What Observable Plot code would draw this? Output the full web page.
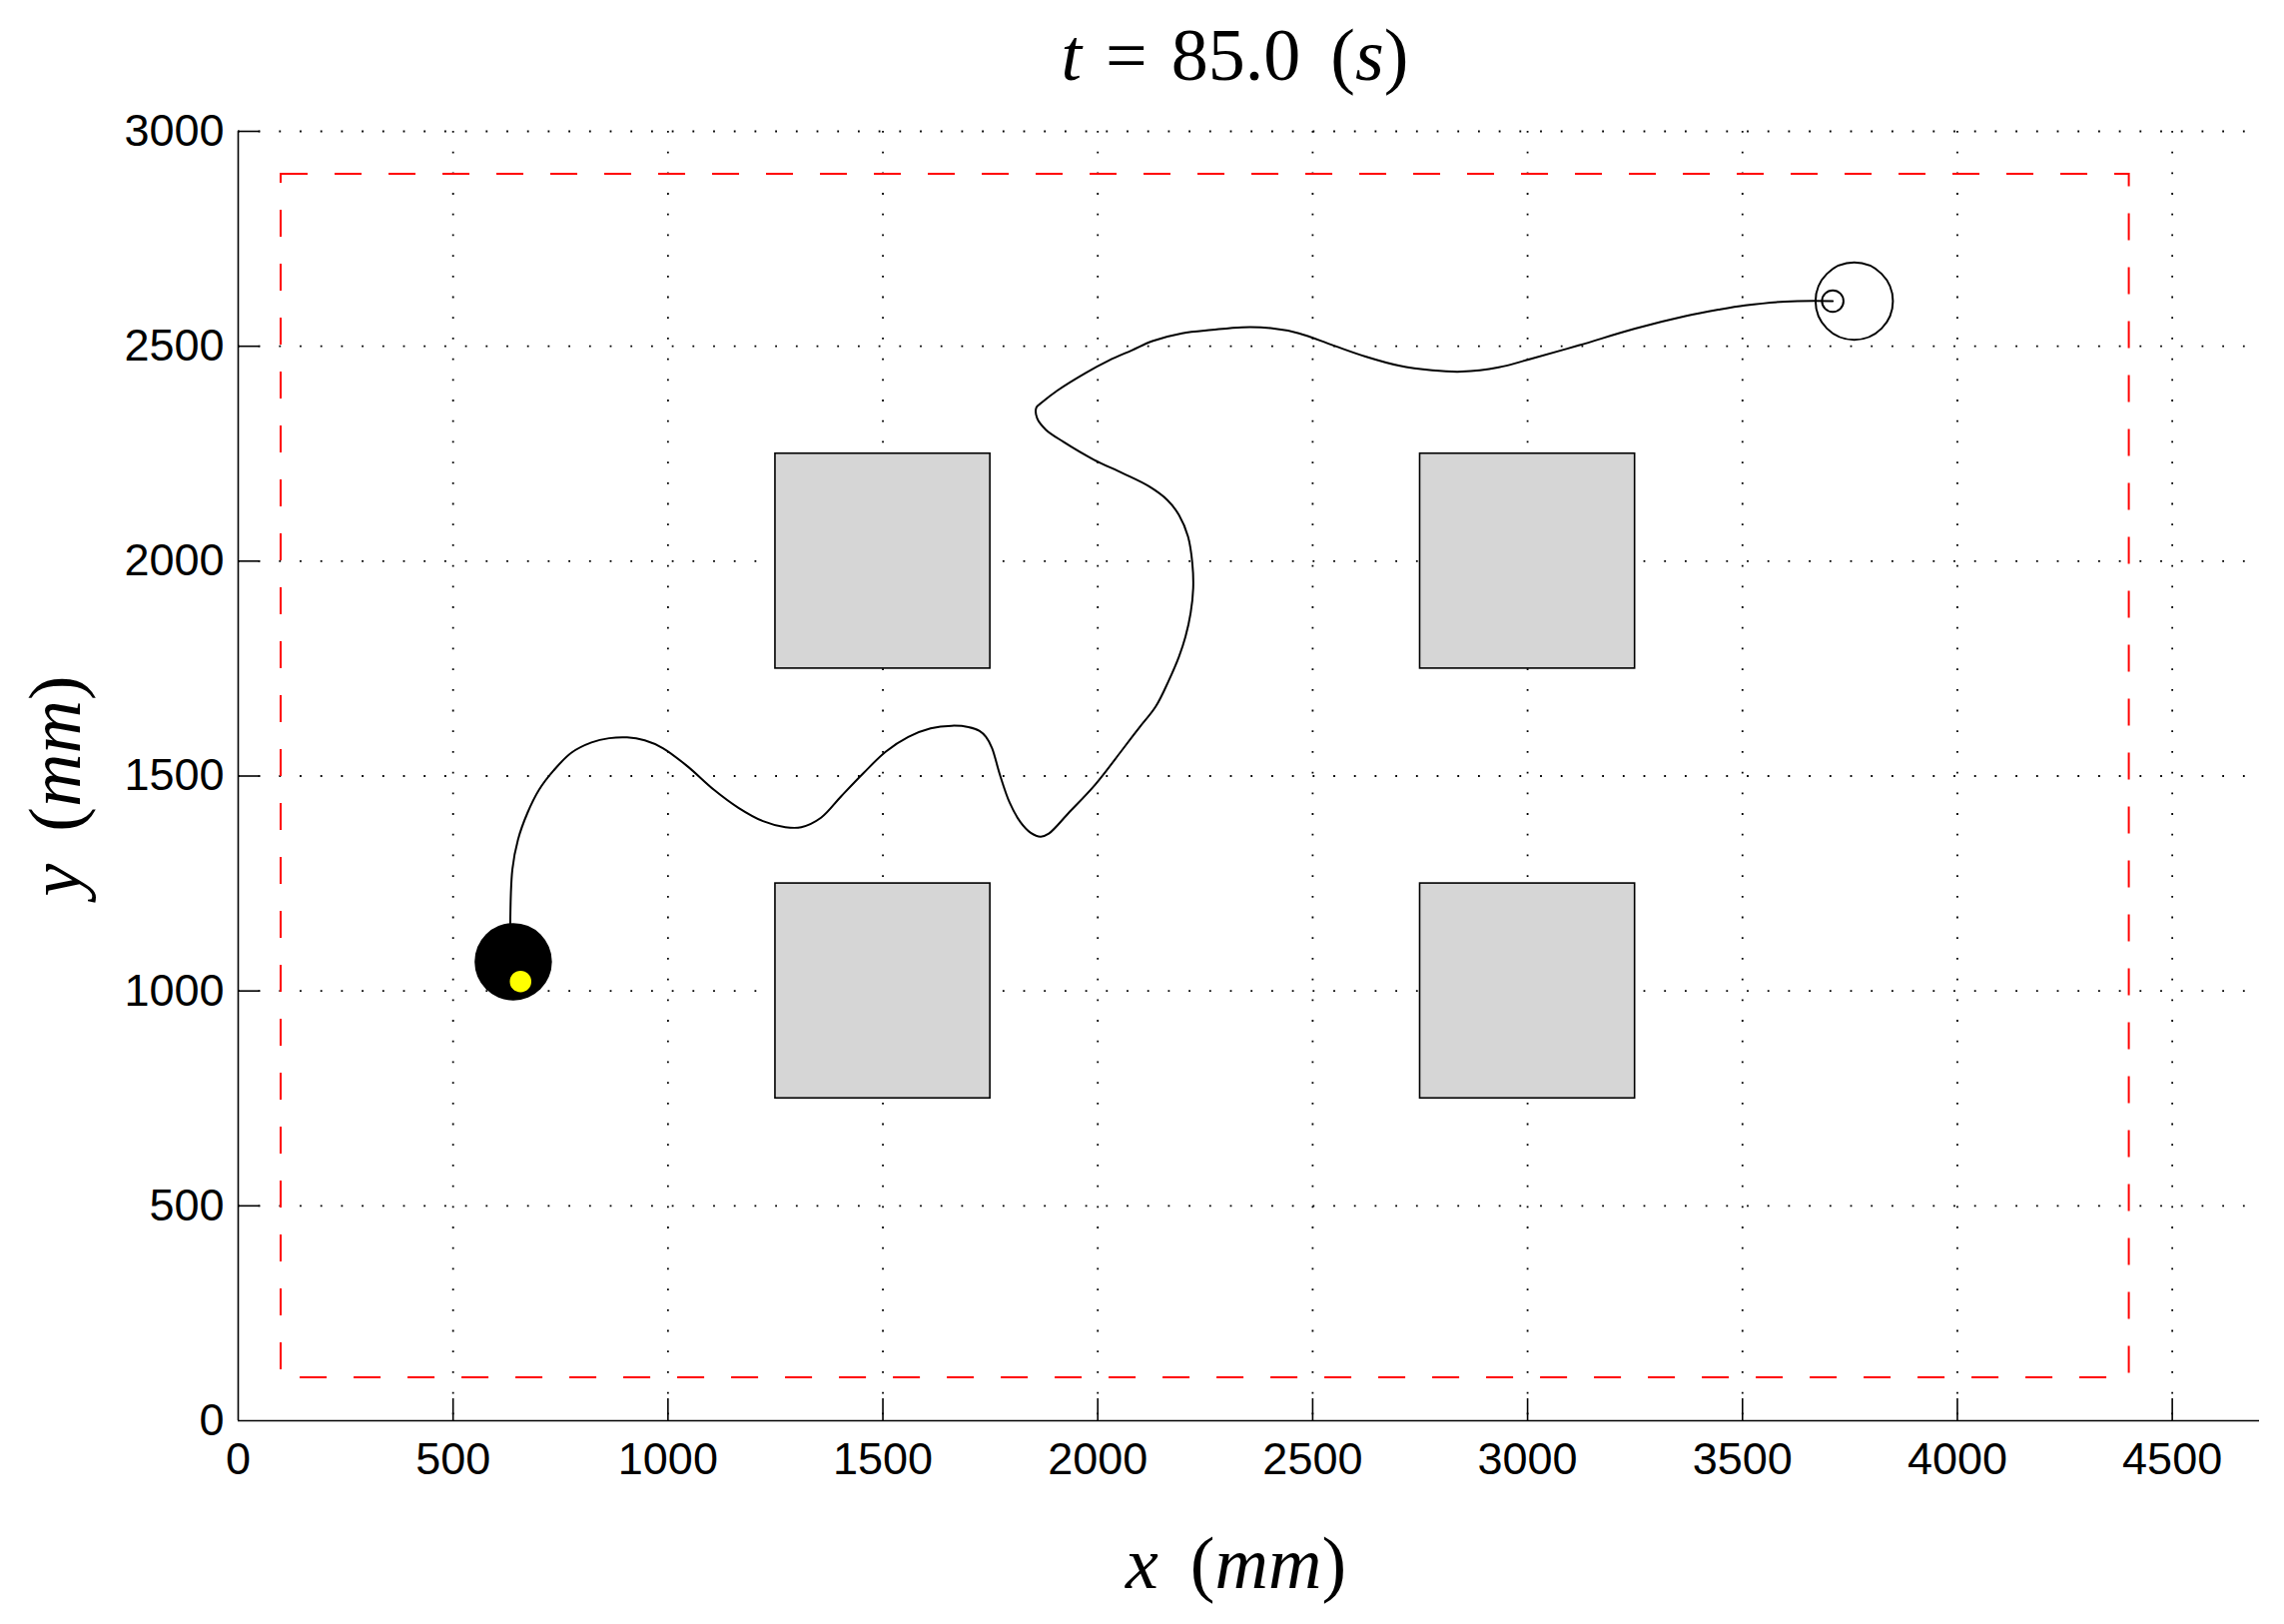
<!DOCTYPE html>
<html>
<head>
<meta charset="utf-8">
<script src="https://cdn.jsdelivr.net/npm/d3@7"></script>
<script src="https://cdn.jsdelivr.net/npm/@observablehq/plot@0.6"></script>
<style>
  html, body { margin: 0; padding: 0; background: #ffffff; }
  svg { display: block; }
</style>
</head>
<body>
<div id="chart"></div>
<script>
// ---------- data ----------
const xTicks = [0, 500, 1000, 1500, 2000, 2500, 3000, 3500, 4000, 4500];
const yTicks = [0, 500, 1000, 1500, 2000, 2500, 3000];
const xDomain = [0, 4703];
const yDomain = [0, 3000];

// arena boundary (red dashed)
const arenaX = [100, 4400];
const arenaY = [100, 2900];

// square obstacles
const obstacleX1 = [1250, 2750, 1250, 2750];
const obstacleX2 = [1750, 3250, 1750, 3250];
const obstacleY1 = [1750, 1750, 750, 750];
const obstacleY2 = [2250, 2250, 1250, 1250];

// trajectory (mm)
const pathX = [633, 638, 651, 673, 700, 734, 775, 822, 863, 905, 946, 988, 1045, 1107, 1164, 1221, 1273, 1310,
  1356, 1403, 1455, 1507, 1559, 1611, 1660, 1699, 1725, 1740, 1754, 1771, 1795, 1820, 1844, 1867, 1886,
  1932, 1994, 2057, 2096, 2135, 2166, 2189, 2204, 2216, 2222, 2220, 2210, 2189, 2162, 2119, 2057, 1991,
  1921, 1879, 1859, 1857, 1871, 1906, 1972, 2026, 2080, 2127, 2196, 2266, 2336, 2402, 2468, 2545,
  2623, 2700, 2778, 2847, 2933, 3002, 3119, 3250, 3367, 3444, 3506, 3599, 3710];
const pathY = [1150, 1283, 1352, 1414, 1468, 1513, 1554, 1578, 1588, 1590, 1583, 1565, 1523, 1468, 1426, 1395, 1381, 1381,
  1403, 1453, 1507, 1557, 1591, 1611, 1617, 1614, 1605, 1591, 1565, 1507, 1438, 1393, 1368, 1359, 1366,
  1414, 1480, 1561, 1612, 1662, 1724, 1778, 1824, 1879, 1937, 1995, 2057, 2107, 2142, 2174, 2205, 2236,
  2277, 2306, 2332, 2357, 2370, 2397, 2438, 2467, 2491, 2512, 2530, 2538, 2544, 2542, 2530, 2503,
  2476, 2455, 2444, 2441, 2451, 2469, 2502, 2541, 2570, 2585, 2595, 2604, 2605];

// robot (current pose) and its heading marker
const robotX = [640], robotY = [1068], robotR = [90];
const headingX = [657], headingY = [1022], headingR = [25];

// goal pose (outline)
const goalX = [3760, 3710], goalY = [2605, 2605], goalR = [90, 25];

// texts: [string, italic, dx]
const titleParts = [["t", true, 0], ["=", false, 24], ["85.0", false, 24], ["(", false, 30], ["s", true, 0], [")", false, 0]];
const xLabelParts = [["x", true, 0], ["(", false, 32], ["m", true, 0], ["m", true, 0], [")", false, 0]];
const yLabelParts = [["y", true, 0], ["(", false, 32], ["m", true, 0], ["m", true, 0], [")", false, 0]];
const joinParts = p => p.map(d => d[0]).join(" ");

// ---------- layout ----------
const W = 2287, H = 1626;
const mL = 238, mR = 25, mT = 131, mB = 204;
const frameW = W - mL - mR, frameH = H - mT - mB;

const path = pathX.map((x, i) => ({x, y: pathY[i]}));
const obstacles = obstacleX1.map((x1, i) => ({x1, x2: obstacleX2[i], y1: obstacleY1[i], y2: obstacleY2[i]}));
const arena = [{x1: arenaX[0], x2: arenaX[1], y1: arenaY[0], y2: arenaY[1]}];
const robot = robotX.map((x, i) => ({x, y: robotY[i], r: robotR[i]}));
const heading = headingX.map((x, i) => ({x, y: headingY[i], r: headingR[i]}));
const goal = goalX.map((x, i) => ({x, y: goalY[i], r: goalR[i]}));

const serif = "'Liberation Serif', 'DejaVu Serif', serif";
const sans = "'Liberation Sans', Arial, Helvetica, sans-serif";

const chart = Plot.plot({
  width: W,
  height: H,
  marginLeft: mL, marginRight: mR, marginTop: mT, marginBottom: mB,
  style: {fontFamily: sans, background: "#ffffff", color: "#000"},
  x: {domain: xDomain, axis: null},
  y: {domain: yDomain, axis: null},
  r: {type: "linear", domain: [0, xDomain[1] - xDomain[0]], range: [0, frameW]},
  marks: [
    Plot.gridX(xTicks.filter(d => d > 0), {stroke: "#000", strokeOpacity: 1, strokeWidth: 1.8, strokeDasharray: "1.8,18.9"}),
    Plot.gridY(yTicks.filter(d => d > 0), {stroke: "#000", strokeOpacity: 1, strokeWidth: 1.8, strokeDasharray: "1.8,18.9"}),
    Plot.rect(arena, {x1: "x1", x2: "x2", y1: "y1", y2: "y2", fill: "none", stroke: "#ff0000", strokeWidth: 2, strokeDasharray: "27,27"}),
    Plot.rect(obstacles, {x1: "x1", x2: "x2", y1: "y1", y2: "y2", fill: "#d6d6d6", stroke: "#000", strokeWidth: 1.6}),
    Plot.line(path, {x: "x", y: "y", curve: "catmull-rom", stroke: "#000", strokeWidth: 2}),
    Plot.dot(robot, {x: "x", y: "y", r: "r", fill: "#000", stroke: "none"}),
    Plot.dot(heading, {x: "x", y: "y", r: "r", fill: "#ffff00", stroke: "none"}),
    Plot.dot(goal, {x: "x", y: "y", r: "r", fill: "none", stroke: "#000", strokeWidth: 2}),
    Plot.ruleX([xDomain[0]], {stroke: "#000", strokeWidth: 1.6}),
    Plot.ruleY([yDomain[0]], {stroke: "#000", strokeWidth: 1.6}),
    Plot.tickX(xTicks.filter(d => d > 0), {x: d => d, insetTop: frameH - 22, stroke: "#000", strokeWidth: 1.6}),
    Plot.tickY(yTicks.filter(d => d > 0), {y: d => d, insetRight: frameW - 22, stroke: "#000", strokeWidth: 1.6}),
    Plot.axisX({ticks: xTicks, tickSize: 0, tickPadding: 22, fontSize: 45, fontFamily: sans, label: null, tickFormat: d => String(d), fill: "#000"}),
    Plot.axisY({ticks: yTicks, tickSize: 0, tickPadding: 14, fontSize: 45, fontFamily: sans, label: null, tickFormat: d => String(d), fill: "#000"}),
    Plot.text([joinParts(titleParts)], {text: d => d, frameAnchor: "top", textAnchor: "middle", dx: -14, dy: -75, lineAnchor: "middle", fontSize: 74, fontFamily: serif, fill: "#000"}),
    Plot.text([joinParts(xLabelParts)], {text: d => d, frameAnchor: "bottom", textAnchor: "middle", dx: -13, dy: 144, lineAnchor: "middle", fontSize: 74, fontFamily: serif, fill: "#000"}),
    Plot.text([joinParts(yLabelParts)], {text: d => d, frameAnchor: "left", textAnchor: "middle", dx: -182, dy: 10, rotate: -90, lineAnchor: "middle", fontSize: 74, fontFamily: serif, fill: "#000"})
  ]
});

function mathify(svg, parts) {
  const target = joinParts(parts);
  const el = Array.from(svg.querySelectorAll("text")).find(t => t.textContent.trim() === target);
  if (!el) return;
  while (el.firstChild) el.removeChild(el.firstChild);
  for (const [s, italic, dx] of parts) {
    const t = document.createElementNS("http://www.w3.org/2000/svg", "tspan");
    t.textContent = s;
    if (italic) t.setAttribute("font-style", "italic");
    if (dx) t.setAttribute("dx", dx);
    el.appendChild(t);
  }
}
mathify(chart, titleParts);
mathify(chart, xLabelParts);
mathify(chart, yLabelParts);

document.getElementById("chart").appendChild(chart);
</script>
</body>
</html>
